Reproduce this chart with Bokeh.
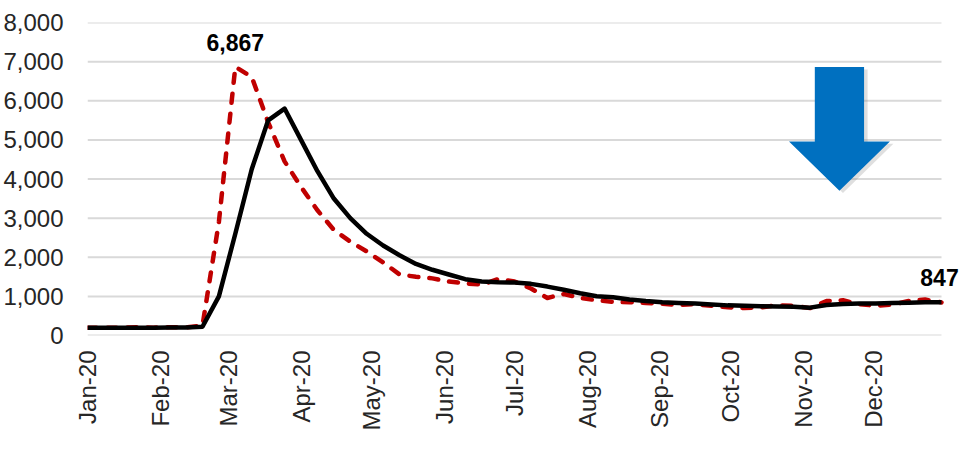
import math
import pandas as pd
from bokeh.plotting import figure
from bokeh.models import (ColumnDataSource, Legend, LegendItem, FixedTicker,
                          NumeralTickFormatter, Label, Range1d)
from bokeh.embed import file_html
from bokeh.resources import INLINE

# ---------------- data ----------------
start_date = "2020-01-01"
n_weeks = 53
weekly = [200, 200, 200, 210, 200, 210, 210, 250, 2900, 6867, 6610, 5450, 4450,
          3800, 3200, 2700, 2400, 2150, 1870, 1560, 1500, 1460, 1380, 1330, 1300,
          1440, 1380, 1200, 960, 1060, 960, 900, 860, 850, 830, 810, 780, 800,
          760, 720, 700, 720, 770, 760, 700, 880, 900, 800, 760, 790, 880, 920, 847]
moving_avg = [200, 200, 200, 200, 200, 205, 205, 225, 1000, 2600, 4250, 5500, 5800,
              5000, 4200, 3500, 3000, 2600, 2300, 2050, 1830, 1680, 1560, 1440, 1380,
              1360, 1355, 1320, 1250, 1170, 1080, 1005, 980, 920, 880, 850, 830, 815,
              790, 770, 760, 750, 740, 735, 712, 780, 805, 815, 820, 830, 840, 850, 847]
month_labels = ["Jan-20", "Feb-20", "Mar-20", "Apr-20", "May-20", "Jun-20",
                "Jul-20", "Aug-20", "Sep-20", "Oct-20", "Nov-20", "Dec-20"]
y_ticks = [0, 1000, 2000, 3000, 4000, 5000, 6000, 7000, 8000]
peak_label = "6,867"
end_label = "847"

# decorative down arrow (days since start, values)
arrow_days = [310, 331, 331, 342, 320.5, 299, 310]
arrow_vals = [6860, 6860, 4960, 4960, 3700, 4960, 4960]

# ---------------- derived ----------------
t0 = pd.Timestamp(start_date)
dates = pd.date_range(start_date, periods=n_weeks, freq="7D")
days = [int((d - t0).days) for d in dates]
month_starts = pd.date_range(start_date, "2020-12-01", freq="MS")
month_days = [int((m - t0).days) for m in month_starts]

src = ColumnDataSource(dict(x=days, weekly=weekly, ma=moving_avg))

FONT = "Liberation Sans"
RED = "#C00000"

# frame: 854 px for the 364-day data span, plus 20 px room on the right for the end label
px_per_day = 854 / days[-1]
x_end = days[-1] + 20 / px_per_day

p = figure(width=960, height=465, frame_width=874, frame_height=313,
           output_backend="svg", toolbar_location=None,
           x_range=Range1d(0, x_end), y_range=Range1d(0, 8000),
           min_border_left=86, min_border_right=0, min_border_top=22,
           min_border_bottom=0)
p.outline_line_color = None
p.background_fill_color = "white"
p.border_fill_color = "white"

# horizontal gridlines across the data span only
p.segment(x0=[0] * len(y_ticks), x1=[days[-1]] * len(y_ticks), y0=y_ticks, y1=y_ticks,
          line_color="#D9D9D9", line_width=2)

# arrow shadow + arrow
p.patch([d + 1.5 for d in arrow_days], [v - 60 for v in arrow_vals],
        fill_color="#7f7f7f", fill_alpha=0.25, line_color=None)
p.patch(arrow_days, arrow_vals, fill_color="#0070C0", line_color=None)

r_weekly = p.line("x", "weekly", source=src, line_color=RED, line_width=4.5,
                  line_dash="9 11", line_cap="round", line_join="round")
r_ma = p.line("x", "ma", source=src, line_color="black", line_width=4.5,
              line_join="round")

# axes
p.xaxis.ticker = FixedTicker(ticks=month_days)
p.xaxis.major_label_overrides = {d: lab for d, lab in zip(month_days, month_labels)}
p.xaxis.major_label_orientation = math.pi / 2
p.yaxis.ticker = FixedTicker(ticks=y_ticks)
p.yaxis.formatter = NumeralTickFormatter(format="0,0")
for ax in (p.xaxis, p.yaxis):
    ax.axis_line_color = None
    ax.major_tick_line_color = None
    ax.minor_tick_line_color = None
    ax.major_tick_in = 0
    ax.major_tick_out = 0
    ax.major_label_text_font = FONT
    ax.major_label_text_color = "#262626"
p.xaxis.major_label_text_font_size = "24px"
p.yaxis.major_label_text_font_size = "24px"
p.xaxis.major_label_standoff = 15
p.yaxis.major_label_standoff = 24

p.xgrid.grid_line_color = None
p.ygrid.grid_line_color = None

# annotations
p.add_layout(Label(x=days[9], y=weekly[9], text=peak_label, text_align="center",
                   text_baseline="alphabetic", y_offset=24, text_font=FONT,
                   text_font_size="23px", text_font_style="bold", text_color="black"))
p.add_layout(Label(x=days[-1], y=moving_avg[-1], text=end_label, text_align="center",
                   text_baseline="alphabetic", x_offset=-2, y_offset=25, text_font=FONT,
                   text_font_size="23px", text_font_style="bold", text_color="black"))

legend = Legend(items=[LegendItem(label="Weekly", renderers=[r_weekly]),
                       LegendItem(label="4-week moving average", renderers=[r_ma])],
                orientation="horizontal", location="top_center",
                label_text_font=FONT, label_text_font_size="25px",
                label_text_color="#262626", glyph_width=68, glyph_height=20,
                label_height=20, label_standoff=10, spacing=44, padding=0, margin=4,
                border_line_color=None, background_fill_alpha=0)
p.add_layout(legend, "below")

open("out.html", "w").write(file_html(p, INLINE))
